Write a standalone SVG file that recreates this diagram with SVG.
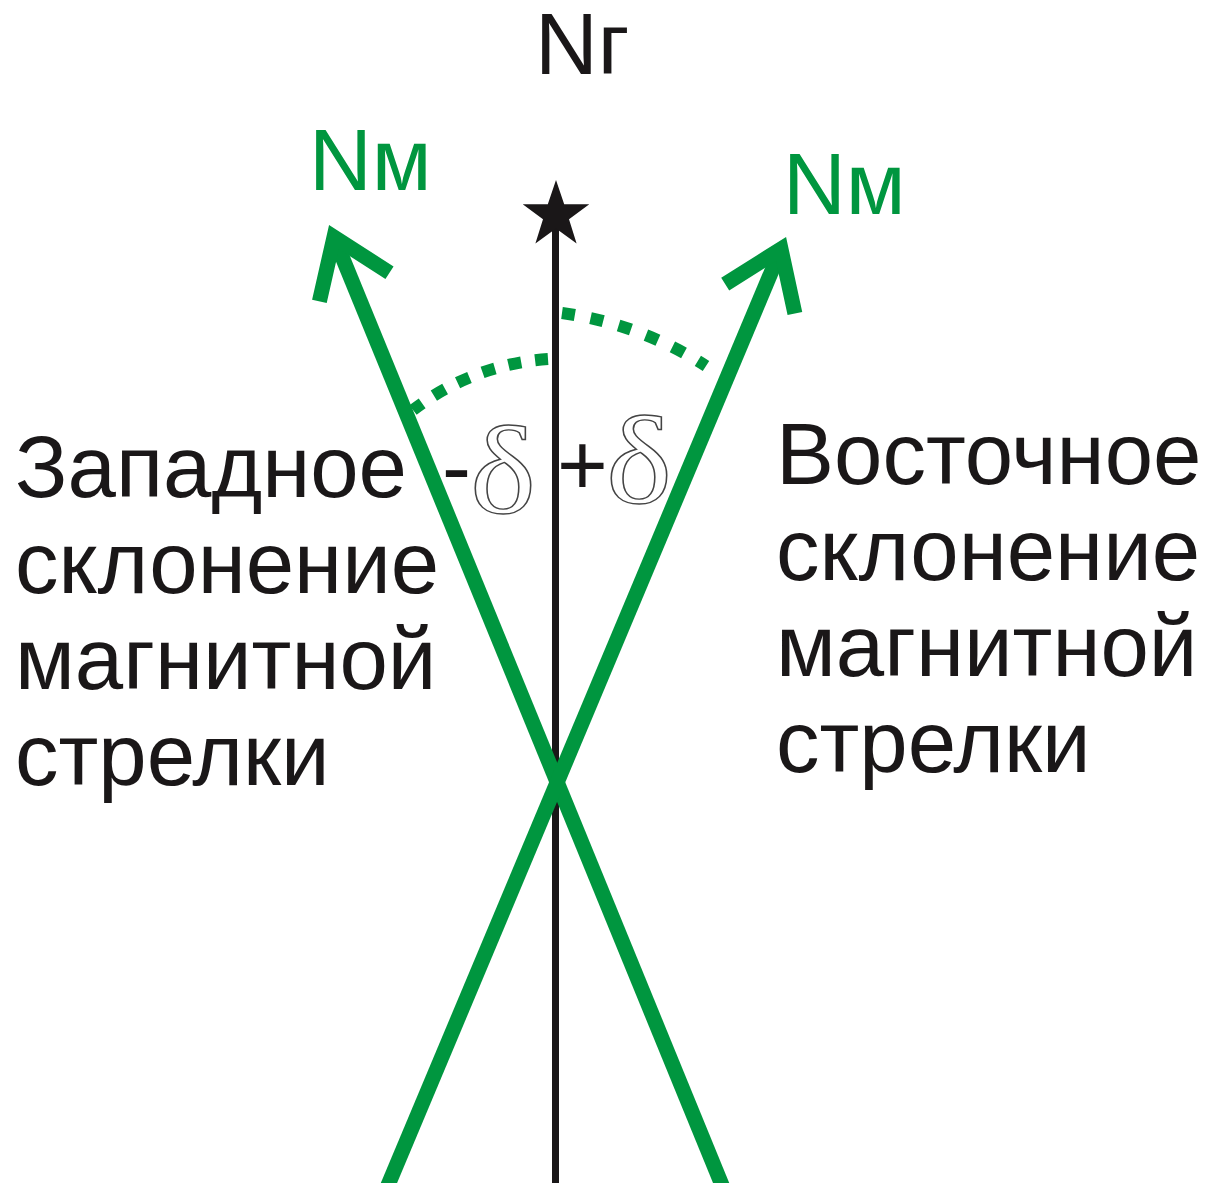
<svg xmlns="http://www.w3.org/2000/svg" width="1205" height="1183" viewBox="0 0 1205 1183">
<style>
.t{font-family:"Liberation Sans",Arial,sans-serif;font-size:87px;fill:#1a1718}
.g{font-family:"Liberation Sans",Arial,sans-serif;font-size:87px;fill:#00963f}
.d{font-family:"Liberation Serif","Times New Roman",serif;font-size:125px;fill:#fff;stroke:#444;stroke-width:1.4}
.arrow{fill:none;stroke:#00963f;stroke-width:15;stroke-linecap:butt;stroke-linejoin:miter;stroke-miterlimit:10}
.dots{fill:none;stroke:#00963f;stroke-width:12;stroke-linecap:butt}
</style>
<rect width="1205" height="1183" fill="#fff"/>
<g id="connectors">
  <line id="true-north-line" x1="555.5" y1="225" x2="555.5" y2="1190" stroke="#1a1718" stroke-width="7"/>
  <path id="arc-west" class="dots" d="M 548 359 A 250 250 0 0 0 413 410" stroke-dasharray="13 14"/>
  <path id="arc-east" class="dots" d="M 562 313 A 355 355 0 0 1 706 366" stroke-dasharray="13 16"/>
  <g id="arrow-west">
    <line class="arrow" x1="724" y1="1190" x2="334" y2="237"/>
    <polyline class="arrow" points="319.4,301.4 334,237 389.5,272.8"/>
  </g>
  <g id="arrow-east">
    <line class="arrow" x1="386" y1="1190" x2="781" y2="249"/>
    <polyline class="arrow" points="725.2,284.2 781,249 794.9,313.5"/>
  </g>
</g>
<g id="star">
  <polygon fill="#1a1718" points="556,180 564.2,204.2 589.3,204.2 569,219.3 576.6,243.4 556,228.6 535.4,243.4 543,219.3 522.7,204.2 547.8,204.2"/>
</g>
<g id="label-ng"><text class="t" x="535" y="74">Nг</text></g>
<g id="label-nm-west"><text class="g" x="309" y="190">Nм</text></g>
<g id="label-nm-east"><text class="g" x="783" y="214">Nм</text></g>
<g id="label-west">
  <text class="t" x="15" y="497">Западное</text>
  <text class="t" x="15" y="593">склонение</text>
  <text class="t" x="15" y="689">магнитной</text>
  <text class="t" x="15" y="785">стрелки</text>
</g>
<g id="label-east">
  <text class="t" x="776" y="484">Восточное</text>
  <text class="t" x="776" y="580">склонение</text>
  <text class="t" x="776" y="676">магнитной</text>
  <text class="t" x="776" y="772">стрелки</text>
</g>
<g id="delta-west">
  <text class="t" x="442" y="497">-</text>
  <text class="d" transform="translate(470,513) scale(1.12,1)">δ</text>
</g>
<g id="delta-east">
  <text class="t" x="557" y="495">+</text>
  <text class="d" transform="translate(606,503) scale(1.12,1)">δ</text>
</g>
</svg>
